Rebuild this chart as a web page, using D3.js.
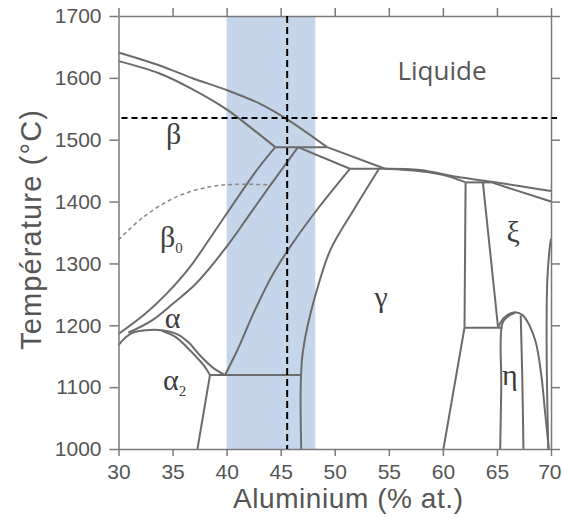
<!DOCTYPE html>
<html>
<head>
<meta charset="utf-8">
<script src="https://cdn.jsdelivr.net/npm/d3@7"></script>
<style>
  body { margin: 0; background: #fff; }
  svg { display: block; }
</style>
</head>
<body>
<script>
// axis ticks
const xTicks = [30, 35, 40, 45, 50, 55, 60, 65, 70];
const yTicks = [1000, 1100, 1200, 1300, 1400, 1500, 1600, 1700];

// highlighted composition window and the two reference lines
const band = [40, 48.2];
const refAl = 45.6;
const refT = 1535;

// phase boundaries, [Al %, T °C]
const liquidusBeta = [[30, 1641], [33.8, 1620], [36.9, 1599], [39.9, 1581], [43.1, 1558], [45.6, 1533], [49.3, 1488]];
const solidusBeta = [[30, 1627], [33.8, 1607], [36.9, 1581], [40, 1549], [42.2, 1520], [44.5, 1488]];
const peritectic1 = [[44.5, 1488], [49.3, 1488]];
const liquidusAlpha = [[49.3, 1488], [54.65, 1453]];
const solidusAlpha = [[46.6, 1488], [51.4, 1453]];
const peritectic2 = [[51.4, 1453], [54.65, 1453]];
const liquidusGamma = [[54.65, 1453], [57.9, 1451], [61.3, 1440], [64.5, 1432], [67.5, 1424], [70, 1417]];
const solidusGamma = [[54.65, 1453], [57.9, 1449], [60.5, 1441], [62.1, 1431]];
const peritectic3 = [[62.1, 1431], [64.5, 1431]];
const liquidusXi = [[64.5, 1431], [70, 1400]];
const xiLeft = [[62.1, 1431], [62.0, 1196], [60.05, 1000]];
const xiRight = [[63.7, 1431], [65.1, 1197]];
const eutectoidXi = [[62.0, 1196], [65.5, 1196]];
const etaDome = [[65.1, 1197], [65.6, 1211], [66.1, 1218], [66.7, 1221], [67.4, 1216], [68.0, 1200], [68.6, 1172], [69.1, 1120], [69.45, 1060], [69.8, 1000]];
const etaLeft = [[66.7, 1220], [66.0, 1214], [65.5, 1203], [65.4, 1100], [65.3, 1000]];
const etaRight = [[67.2, 1216], [67.35, 1110], [67.45, 1000]];
const xiEdge = [[69.75, 1000], [69.6, 1150], [69.65, 1270], [69.85, 1320], [70, 1340]];
const betaLeft = [[44.5, 1488], [42.8, 1451], [39.4, 1365], [36.6, 1294], [34.5, 1252], [32.5, 1219], [30, 1186]];
const betaRight = [[46.6, 1488], [43.7, 1418], [42.2, 1381], [40, 1327], [37.2, 1268], [35.1, 1236], [33.1, 1208], [30.9, 1188]];
const alphaDome = [[30, 1168], [30.7, 1181], [31.3, 1188], [32.5, 1192], [34, 1192], [35.5, 1185], [36.5, 1172], [37.5, 1152], [38.7, 1132], [39.85, 1119.5]];
const alpha2Solvus = [[34, 1191], [35.3, 1181], [36.3, 1165], [37.85, 1136], [38.46, 1119.5]];
const eutectoid1120 = [[38.46, 1119.5], [46.9, 1119.5]];
const alpha2Left = [[38.46, 1119.5], [37.3, 1000]];
const alphaGamma = [[39.85, 1119.5], [41, 1160], [42.5, 1220], [44.2, 1280], [46.0, 1330], [48.5, 1390], [51.4, 1453]];
const gammaLeft = [[54.1, 1453], [51.8, 1388], [49.6, 1322], [48.4, 1260], [47.5, 1200], [47.0, 1150], [46.85, 1100], [46.85, 1050], [46.9, 1000]];
const beta0Order = [[30, 1338], [32.3, 1375], [35.4, 1408], [38.5, 1424], [40.9, 1428], [44.0, 1427]];

const straight = [peritectic1, liquidusAlpha, solidusAlpha, peritectic2, peritectic3, liquidusXi,
  xiLeft, xiRight, eutectoidXi, eutectoid1120, alpha2Left];
const curved = [liquidusBeta, solidusBeta, liquidusGamma, solidusGamma, etaDome, etaLeft, etaRight,
  xiEdge, betaLeft, betaRight, alphaDome, alpha2Solvus, alphaGamma, gammaLeft];

// phase names with their anchor in data units
const phaseNames = ["β", "β", "α", "α", "γ", "ξ", "η"];
const phaseSubs = ["", "0", "", "2", "", "", ""];
const phaseAl = [35.1, 34.9, 35.0, 35.2, 54.3, 66.5, 66.2];
const phaseT = [1493, 1327, 1195, 1095, 1230, 1335, 1103];

const W = 562, H = 517;
const x = d3.scaleLinear().domain([30, 70]).range([118.5, 551]);
const y = d3.scaleLinear().domain([1000, 1700]).range([449, 16]);

const svg = d3.select("body").append("svg")
  .attr("width", W).attr("height", H);

svg.append("rect")
  .attr("x", x(band[0])).attr("y", y(1700))
  .attr("width", x(band[1]) - x(band[0]))
  .attr("height", y(1000) - y(1700))
  .attr("fill", "#c6d6ea");

const line = d3.line().x(d => x(d[0])).y(d => y(d[1]));
const smooth = d3.line().x(d => x(d[0])).y(d => y(d[1])).curve(d3.curveCatmullRom.alpha(0.5));

svg.append("path")
  .attr("d", smooth(beta0Order))
  .attr("fill", "none")
  .attr("stroke", "#888")
  .attr("stroke-width", 1.5)
  .attr("stroke-dasharray", "4,3");

const g = svg.append("g")
  .attr("fill", "none")
  .attr("stroke", "#6b6b6b")
  .attr("stroke-width", 2)
  .attr("stroke-linejoin", "round");

g.selectAll("path.s").data(straight).join("path").attr("class", "s").attr("d", line);
g.selectAll("path.c").data(curved).join("path").attr("class", "c").attr("d", smooth);

// axes
function styleAxis(sel) {
  sel.selectAll("path, line").attr("stroke", "#7a7a7a").attr("stroke-width", 1.5);
  sel.selectAll("text")
    .attr("fill", "#555")
    .style("font-family", "'Liberation Sans', Arial, sans-serif")
    .style("font-size", "21px");
}

const fmt = d3.format("d");

svg.append("g").attr("transform", `translate(0,${y(1000)})`)
  .call(d3.axisBottom(x).tickValues(xTicks).tickFormat(fmt).tickSize(7).tickSizeOuter(0).tickPadding(8))
  .call(styleAxis)
  .call(a => a.selectAll(".tick text").filter(d => d === 70).attr("text-anchor", "end").attr("x", 10));
svg.append("g").attr("transform", `translate(0,${y(1700)})`)
  .call(d3.axisTop(x).tickValues(xTicks).tickSize(8).tickSizeOuter(0).tickFormat(""))
  .call(styleAxis);
svg.append("g").attr("transform", `translate(${x(30)},0)`)
  .call(d3.axisLeft(y).tickValues(yTicks).tickFormat(fmt).tickSize(9).tickSizeOuter(0).tickPadding(8))
  .call(styleAxis);
svg.append("g").attr("transform", `translate(${x(70)},0)`)
  .call(d3.axisRight(y).tickValues(yTicks).tickSize(9).tickSizeOuter(0).tickFormat(""))
  .call(styleAxis);

// reference dashed lines
svg.append("line")
  .attr("x1", x(30) + 3).attr("x2", x(70) + 6)
  .attr("y1", y(refT)).attr("y2", y(refT))
  .attr("stroke", "#000").attr("stroke-width", 2).attr("stroke-dasharray", "6,4");
svg.append("line")
  .attr("x1", x(refAl)).attr("x2", x(refAl))
  .attr("y1", y(1700)).attr("y2", y(1000))
  .attr("stroke", "#000").attr("stroke-width", 2).attr("stroke-dasharray", "7,4");

// phase labels
const labels = svg.append("g")
  .style("font-family", "'Liberation Serif', 'DejaVu Serif', serif")
  .attr("fill", "#3d3d3d");
phaseNames.forEach((name, i) => {
  const t = labels.append("text")
    .attr("x", x(phaseAl[i])).attr("y", y(phaseT[i]))
    .attr("text-anchor", "middle")
    .style("font-size", "30px");
  t.append("tspan").text(name);
  if (phaseSubs[i]) {
    t.append("tspan").text(phaseSubs[i]).attr("dy", 6).style("font-size", "15px");
  }
});

svg.append("text")
  .attr("x", 442).attr("y", 80)
  .attr("text-anchor", "middle")
  .attr("fill", "#555")
  .style("font-family", "'Open Sans', sans-serif")
  .style("font-size", "26px")
  .text("Liquide");

// axis titles
svg.append("text")
  .attr("x", 348).attr("y", 508)
  .attr("text-anchor", "middle")
  .attr("fill", "#555")
  .attr("textLength", 230)
  .style("font-family", "'Liberation Sans', Arial, sans-serif")
  .style("font-size", "28px")
  .text("Aluminium (% at.)");

svg.append("text")
  .attr("transform", "translate(41,230) rotate(-90)")
  .attr("text-anchor", "middle")
  .attr("fill", "#555")
  .attr("textLength", 240)
  .style("font-family", "'Liberation Sans', Arial, sans-serif")
  .style("font-size", "29px")
  .text("Température (°C)");
</script>
</body>
</html>
